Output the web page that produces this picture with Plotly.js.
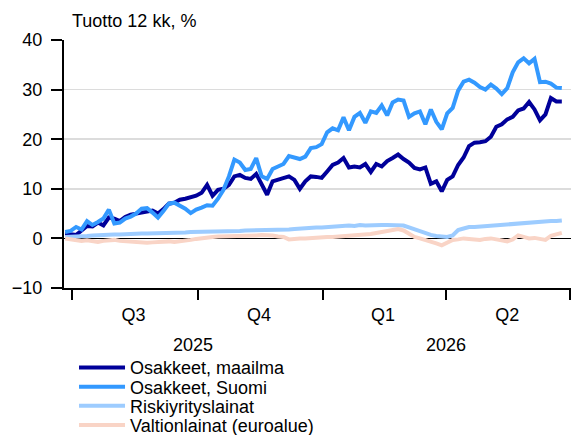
<!DOCTYPE html>
<html>
<head>
<meta charset="utf-8">
<script src="https://cdn.plot.ly/plotly-3.0.1.min.js"></script>
<style>html,body{margin:0;padding:0;background:#fff;}#chart{width:576px;height:435px;}</style>
</head>
<body>
<div id="chart"></div>
<script>
// Observations every 4 days starting 2025-06-26
var startDate = '2025-06-26';
var stepDays = 4;

var osakkeetMaailma = [1.0,0.8,0.7,1.6,2.5,2.4,3.2,2.6,4.2,4.0,3.5,4.3,4.8,5.0,5.3,5.4,5.6,5.0,5.9,7.0,
7.2,7.8,8.0,8.2,8.6,9.2,10.8,8.6,9.8,10.0,10.8,12.5,12.8,12.2,12.0,13.0,10.8,8.8,11.5,11.8,
12.2,12.5,11.8,10.0,11.5,12.5,12.4,12.2,13.5,14.8,15.3,16.2,14.3,14.5,14.3,15.0,13.4,15.0,14.5,15.6,
16.2,16.9,16.0,15.3,14.2,13.9,14.3,11.0,11.5,9.5,11.8,12.5,14.8,16.3,18.6,19.3,19.4,19.6,20.5,22.5,
23.0,24.0,24.5,25.8,26.2,27.5,26.0,23.8,25.0,28.3,27.6,27.6];

var osakkeetSuomi = [1.3,1.5,2.3,1.8,3.5,2.7,3.3,4.0,5.8,3.0,3.2,4.0,4.4,5.0,6.0,6.1,5.2,4.2,5.5,7.0,
7.2,6.7,6.0,5.1,5.8,6.2,6.7,6.6,8.0,9.8,12.5,15.9,15.3,13.8,14.0,16.2,12.5,12.0,14.0,14.5,
15.0,16.6,16.4,16.0,16.5,18.2,18.4,19.0,21.4,22.2,21.8,24.4,21.8,24.5,25.3,23.3,25.6,25.3,26.8,24.8,
27.4,28.0,27.8,24.5,25.2,25.6,23.0,26.0,23.5,22.0,25.2,26.3,29.8,31.6,32.0,31.4,30.5,30.0,31.0,30.2,
29.1,30.3,33.5,35.5,36.3,35.3,36.2,31.5,31.6,31.2,30.4,30.3];

var riskiyrityslainat = [0.3,0.3,0.4,0.5,0.5,0.6,0.7,0.7,0.8,0.8,0.8,0.9,0.9,0.9,1.0,1.0,1.0,1.1,1.1,1.1,
1.2,1.2,1.2,1.3,1.3,1.3,1.3,1.4,1.4,1.4,1.5,1.5,1.5,1.6,1.6,1.6,1.6,1.7,1.7,1.7,
1.8,1.8,1.9,2.0,2.0,2.1,2.2,2.2,2.3,2.4,2.4,2.5,2.6,2.5,2.7,2.6,2.7,2.6,2.7,2.7,
2.7,2.7,2.6,2.2,1.8,1.5,1.0,0.7,0.5,0.3,0.3,0.6,1.7,2.0,2.3,2.3,2.4,2.4,2.5,2.6,
2.6,2.7,2.8,2.9,3.0,3.1,3.2,3.3,3.4,3.5,3.5,3.6];

var valtionlainat = [0.0,-0.2,-0.3,-0.5,-0.4,-0.6,-0.7,-0.5,-0.4,-0.3,-0.5,-0.6,-0.5,-0.7,-0.8,-0.9,-0.8,-0.7,-0.8,-0.6,
-0.7,-0.6,-0.5,-0.3,-0.1,0.1,0.2,0.3,0.4,0.4,0.5,0.5,0.4,0.6,0.5,0.6,0.7,0.7,0.6,0.4,
0.3,-0.2,0.0,0.0,0.0,0.1,0.2,0.2,0.3,0.3,0.4,0.4,0.5,0.5,0.6,0.8,0.9,1.1,1.3,1.7,
1.8,1.9,1.6,1.0,0.3,0.0,-0.3,-0.5,-1.0,-1.4,-0.8,-0.3,-0.2,0.0,-0.1,-0.3,-0.3,-0.1,0.0,-0.2,
-0.5,-0.6,-0.2,0.6,0.3,0.0,0.1,-0.2,-0.3,0.5,0.8,1.1];

var seriesNames = ['Osakkeet, maailma','Osakkeet, Suomi','Riskiyrityslainat','Valtionlainat (euroalue)'];
var seriesColors = ['#00009a','#3399ff','#9dccff','#f9d4c6'];
var seriesData = [osakkeetMaailma, osakkeetSuomi, riskiyrityslainat, valtionlainat];

var quarterBounds = ['2025-07-01','2025-10-01','2026-01-01','2026-04-01','2026-07-01'];
var quarterMids = ['2025-08-15','2025-11-15','2026-02-14','2026-05-16'];
var quarterLabels = ['Q3','Q4','Q1','Q2'];
var yearPos = ['2025-09-28','2026-04-01'];
var yearLabels = ['2025','2026'];
var yTicks = [-10,0,10,20,30,40];

var FONT = 'Liberation Sans, Arial, sans-serif';
var FS = 18;
var legendY = [0.1547,0.1103,0.0667,0.0223];
var legendIds = ['legend','legend2','legend3','legend4'];

var traces = seriesData.map(function(d,i){
  return {
    type:'scatter', mode:'lines', name:seriesNames[i],
    x0:startDate, dx:stepDays*86400000, y:d,
    line:{color:seriesColors[i], width:4},
    legend:legendIds[i], hoverinfo:'skip'
  };
});

var layout = {
  width:576, height:435,
  margin:{l:64, r:5, t:40, b:147, autoexpand:false},
  paper_bgcolor:'#fff', plot_bgcolor:'#fff',
  font:{family:FONT, size:FS, color:'#000'},
  xaxis:{
    type:'date', range:['2025-06-25 03:00','2026-07-01 17:30'],
    tickmode:'array', tickvals:quarterMids, ticktext:quarterLabels,
    ticks:'', showgrid:false, zeroline:false,
    showline:true, linecolor:'#000', linewidth:2,
    ticklabelstandoff:9,
    tickfont:{family:FONT, size:FS, color:'#000'},
    minor:{tickmode:'array', tickvals:quarterBounds, ticks:'outside', ticklen:10, tickwidth:2, tickcolor:'#000', showgrid:false}
  },
  yaxis:{
    range:[-10,40], tickmode:'array', tickvals:yTicks,
    ticks:'outside', ticklen:11, tickwidth:2, tickcolor:'#000',
    showline:true, linecolor:'#000', linewidth:2,
    showgrid:true, gridcolor:'#dcdcdc', gridwidth:1.5,
    zeroline:true, zerolinecolor:'#000', zerolinewidth:1.5,
    tickfont:{family:FONT, size:FS, color:'#000'},
    ticklabelstandoff:5
  },
  showlegend:true,
  annotations:[
    {text:'Tuotto 12 kk, %', xref:'paper', yref:'paper', x:0.011, y:1.077, xanchor:'left', yanchor:'middle', showarrow:false, font:{family:FONT,size:FS,color:'#000'}}
  ].concat(yearLabels.map(function(t,i){
    return {text:t, xref:'x', yref:'paper', x:yearPos[i], y:-0.23, xanchor:'center', yanchor:'middle', showarrow:false, font:{family:FONT,size:FS,color:'#000'}};
  }))
};
legendIds.forEach(function(id,i){
  layout[id] = {xref:'container', yref:'container', x:0.1285, y:legendY[i], xanchor:'left', yanchor:'middle', bgcolor:'rgba(0,0,0,0)', borderwidth:0,
    font:{family:FONT, size:FS, color:'#000'}, itemwidth:46};
});

Plotly.newPlot('chart', traces, layout, {staticPlot:true});
</script>
</body>
</html>
